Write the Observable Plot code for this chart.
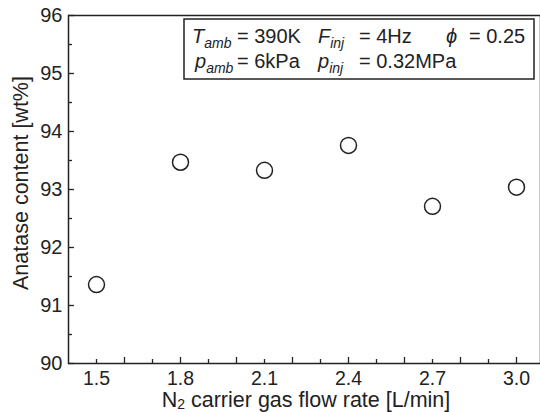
<!DOCTYPE html>
<html><head><meta charset="utf-8">
<script src="https://cdn.jsdelivr.net/npm/d3@7"></script>
<script src="https://cdn.jsdelivr.net/npm/@observablehq/plot@0.6"></script>
<style>
body{margin:0;background:#fff;overflow:hidden}
#chart{position:relative;width:540px;height:412px}
</style>
</head><body><div id="chart"></div>
<script>
// Data
const flowRate = [1.5, 1.8, 2.1, 2.4, 2.7, 3.0];
const anatase  = [91.36, 93.47, 93.33, 93.76, 92.71, 93.04];
// Ticks
const xTickLabels = [1.5, 1.8, 2.1, 2.4, 2.7, 3.0];
const xMajorTicks = [1.6, 1.8, 2.0, 2.2, 2.4, 2.6, 2.8, 3.0];
const xMinorTicks = [1.5, 1.7, 1.9, 2.1, 2.3, 2.5, 2.7, 2.9];
const yTickLabels = [90, 91, 92, 93, 94, 95, 96];
const yMinorTicks = [90.5, 91.5, 92.5, 93.5, 94.5, 95.5];
const xTitle = ["N", "2", " carrier gas flow rate [L/min]"];
const yTitle = "Anatase content [wt%]";

const data = flowRate.map((x, i) => ({x, y: anatase[i]}));
const ink = "#222";
const font = "'Liberation Sans', Arial, sans-serif";

const chart = Plot.plot({
  width: 540,
  height: 412,
  marginLeft: 68,
  marginTop: 15,
  marginBottom: 49,
  marginRight: 0,
  style: {fontFamily: font, fontSize: "20px", color: ink, background: "#fff"},
  x: {domain: [1.4, 3.1], range: [68, 544]},
  y: {domain: [90, 96]},
  marks: [
    Plot.frame({stroke: ink, strokeWidth: 1.5}),
    Plot.axisX({ticks: xMajorTicks, tickSize: -6, text: null, stroke: ink, strokeWidth: 1.3, label: null}),
    Plot.axisX({ticks: xMinorTicks, tickSize: -4, text: null, stroke: ink, strokeWidth: 1.3, label: null}),
    Plot.axisX({ticks: xTickLabels, tickSize: 0, tickPadding: 8, tickFormat: d3.format(".1f"), fill: ink, fontSize: 19.5, label: null}),
    Plot.axisY({ticks: yTickLabels, tickSize: -6, text: null, stroke: ink, strokeWidth: 1.3, label: null}),
    Plot.axisY({ticks: yMinorTicks, tickSize: -4, text: null, stroke: ink, strokeWidth: 1.3, label: null}),
    Plot.axisY({ticks: yTickLabels, tickSize: 0, tickPadding: 6, tickFormat: d3.format("d"), fill: ink, fontSize: 20, label: null}),
    Plot.dot(data, {x: "x", y: "y", r: 8, stroke: ink, strokeWidth: 1.5, fill: "white"})
  ]
});
document.getElementById("chart").appendChild(chart);

const svg = d3.select(chart);
// Axis titles
const xt = svg.append("text").attr("x", 306).attr("y", 407).attr("text-anchor", "middle")
  .attr("font-family", font).attr("font-size", 21.5).attr("fill", ink);
xt.append("tspan").text(xTitle[0]);
xt.append("tspan").attr("font-size", 14).attr("dy", 2).text(xTitle[1]);
xt.append("tspan").attr("dy", -2).text(xTitle[2]);

svg.append("text").attr("transform", "translate(28,183) rotate(-90)").attr("text-anchor", "middle")
  .attr("font-family", font).attr("font-size", 21.5).attr("fill", ink).text(yTitle);

// Parameter box
const g = svg.append("g").attr("font-family", font).attr("font-size", 20).attr("fill", ink)
  .attr("text-anchor", "start");
g.append("rect").attr("x", 184).attr("y", 19).attr("width", 350).attr("height", 60)
  .attr("fill", "white").attr("stroke", ink).attr("stroke-width", 1.5);

function sym(x, y, main, sub) {
  const t = g.append("text").attr("x", x).attr("y", y).attr("text-anchor", "start");
  t.append("tspan").attr("font-style", "italic").text(main);
  if (sub) t.append("tspan").attr("font-style", "italic").attr("font-size", 14).attr("dy", 5).text(sub);
}
function txt(x, y, s) { g.append("text").attr("x", x).attr("y", y).attr("text-anchor", "start").text(s); }

sym(192, 43, "T", "amb"); txt(237, 43, "= 390K");
sym(318, 43, "F", "inj"); txt(359, 43, "= 4Hz");
sym(446, 43, "\u03D5"); txt(469, 43, "= 0.25");
sym(195, 68, "p", "amb"); txt(237, 68, "= 6kPa");
sym(318, 68, "p", "inj"); txt(359, 68, "= 0.32MPa");
</script>
</body></html>
